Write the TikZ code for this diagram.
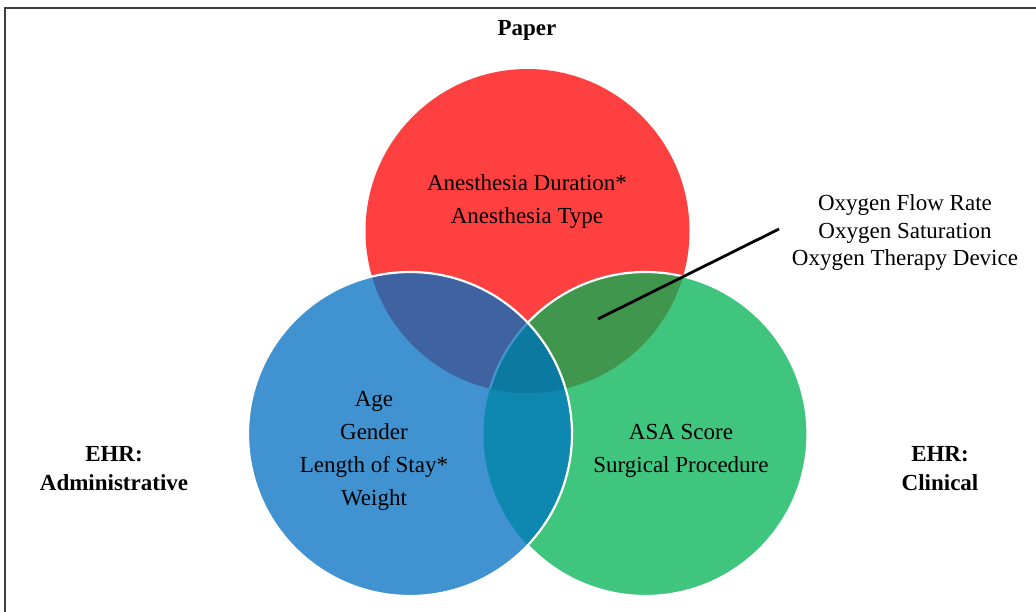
\documentclass[tikz,border=0pt]{standalone}
\usepackage{fontspec}
\setmainfont{Liberation Serif}
\definecolor{redc}{RGB}{255,64,64}
\definecolor{bluec}{RGB}{64,147,208}
\definecolor{greenc}{RGB}{64,197,126}
\definecolor{rbc}{RGB}{63,98,160}
\definecolor{rgc}{RGB}{63,150,76}
\definecolor{bgc}{RGB}{14,136,176}
\definecolor{rbgc}{RGB}{12,122,160}
\definecolor{bordc}{RGB}{64,64,64}
\definecolor{faintc}{RGB}{70,150,210}
\tikzset{
  body/.style={align=center, text=black, inner sep=0pt, font=\fontsize{23}{33}\selectfont},
  oxy/.style={align=center, text=black, inner sep=0pt, font=\fontsize{23}{27.5}\selectfont},
  lab/.style={align=center, text=black, inner sep=0pt, font=\fontsize{23}{29}\selectfont\bfseries},
  outline/.style={white, line width=2.2pt},
  pointer/.style={black, line width=2.8pt}
}
\begin{document}
\begin{tikzpicture}[x=1pt,y=-1pt]
\useasboundingbox (0,0) rectangle (1036,612);
\draw[bordc, line width=1.6pt] (5,620) -- (5,8) -- (1045,8);
\coordinate (R) at (527.5,231);
\coordinate (B) at (410,434);
\coordinate (G) at (645.5,434);
% base fills
\fill[redc] (R) circle[radius=162pt];
\fill[bluec] (B) circle[radius=162pt];
\fill[greenc] (G) circle[radius=162pt];
\begin{scope}
  \clip (R) circle[radius=162pt];
  \fill[rbc] (B) circle[radius=162pt];
  \fill[rgc] (G) circle[radius=162pt];
\end{scope}
\begin{scope}
  \clip (B) circle[radius=162pt];
  \fill[bgc] (G) circle[radius=162pt];
  \clip (R) circle[radius=162pt];
  \fill[rbgc] (G) circle[radius=162pt];
\end{scope}
% green outline
\draw[outline] (G) circle[radius=162pt];
\begin{scope}
  \clip (B) circle[radius=162pt];
  \fill[bluec] (B) circle[radius=163pt];
  \fill[bgc] (G) circle[radius=162pt];
  \begin{scope}
    \clip (R) circle[radius=162pt];
    \fill[rbc] (B) circle[radius=163pt];
    \fill[rbgc] (G) circle[radius=162pt];
    \draw[faintc, line width=2pt] (G) circle[radius=162pt];
  \end{scope}
\end{scope}
% blue outline
\draw[outline] (B) circle[radius=162pt];
% texts
\node[lab] (paper) at (527,30) {Paper};
\node[body] (redtxt) at (527,201.5) {Anesthesia Duration*\\Anesthesia Type};
\node[body] (bluetxt) at (374,450.5) {Age\\Gender\\Length of Stay*\\Weight};
\node[body] (greentxt) at (681,450.5) {ASA Score\\Surgical Procedure};
\node[oxy] (oxytxt) at (905,233) {Oxygen Flow Rate\\Oxygen Saturation\\Oxygen Therapy Device};
\node[lab] (admin) at (114,469) {EHR:\\Administrative};
\node[lab] (clin) at (940,469) {EHR:\\Clinical};
% pointer
\coordinate (pstart) at (598,319);
\coordinate (pend) at (779,229);
\draw[pointer] (pstart) -- (pend);
\end{tikzpicture}
\end{document}
